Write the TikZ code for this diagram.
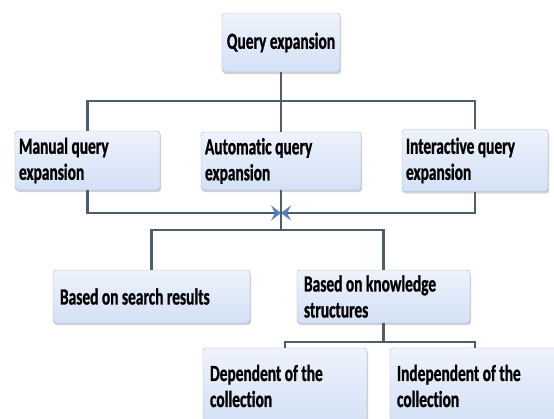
\documentclass[tikz,border=0pt]{standalone}
\usepackage{fontspec}
\setmainfont{Carlito}[FakeStretch=0.67, Ligatures=NoCommon, BoldFont=Carlito Bold, BoldFeatures={FakeStretch=0.67, FakeBold=1, Ligatures=NoCommon}]
\usepackage{tikz}
\usetikzlibrary{arrows.meta,shadows}
\definecolor{boxtop}{HTML}{EEF3FC}
\definecolor{boxbottom}{HTML}{D3E0F6}
\definecolor{boxline}{HTML}{A3B2C6}
\definecolor{linkgrey}{HTML}{4F5E6D}
\definecolor{tipblue}{HTML}{4F81BD}
\tikzstyle{qbox}=[draw=boxline, rounded corners=3pt, top color=boxtop, bottom color=boxbottom, drop shadow={opacity=0.35, shadow xshift=1pt, shadow yshift=-2pt}, font=\fontsize{23}{26}\selectfont\bfseries, inner xsep=4pt, align=flush left]
\tikzstyle{link}=[draw=linkgrey, line width=2.6pt]
\tikzstyle{arrow}=[link, -{Stealth[length=10pt, width=15pt, inset=4pt, color=tipblue]}]

\begin{document}
\begin{tikzpicture}[x=1pt, y=-1pt]
	\clip (0,0) rectangle (554,418);
	\fill[white] (0,0) rectangle (554,418);
	\begin{scope}
		\node (query) at (281, 42.5)[qbox, minimum width=118pt, minimum height=59pt, align=center] {Query expansion};
		\node (manual) at (87.5, 160.5)[qbox, text width=137pt, minimum height=59pt] {Manual query\\expansion};
		\node (auto) at (281, 161)[qbox, text width=152pt, minimum height=58pt] {Automatic query\\expansion};
		\node (inter) at (475, 160.5)[qbox, text width=138pt, minimum height=62pt] {Interactive query\\expansion};
		\node (search) at (151.5, 296.5)[qbox, text width=183pt, inner xsep=7pt, minimum height=53pt] {Based on search results};
		\node (knowl) at (383.5, 296.5)[qbox, text width=159pt, inner xsep=7pt, minimum height=53pt] {Based on knowledge\\structures};
		\node (dep) at (285, 386)[qbox, text width=150pt, inner xsep=7pt, minimum height=76pt] {Dependent of the\\collection};
		\node (indep) at (475, 386)[qbox, text width=156pt, inner xsep=7pt, minimum height=76pt] {Independent of the\\collection};
	\end{scope}
	\begin{scope}
		\coordinate (topbar) at (281, 101);
		\coordinate (meet) at (281, 213);
		\coordinate (midbar) at (281, 230);
		\coordinate (lowbar) at (383.5, 342);
		\path [link] (query.south) -- (topbar);
		\path [link] (manual.north) |- (topbar) -| (inter.north);
		\path [link] (topbar) -- (auto.north);
		\path [arrow] (manual.south) |- (meet);
		\path [arrow] (inter.south) |- (meet);
		\path [link] (auto.south) -- (midbar);
		\path [link] (search.north) |- (midbar) -| (knowl.north);
		\path [link] (knowl.south) -- (lowbar);
		\path [link] (dep.north) |- (lowbar) -| (indep.north);
	\end{scope}
\end{tikzpicture}
\end{document}
